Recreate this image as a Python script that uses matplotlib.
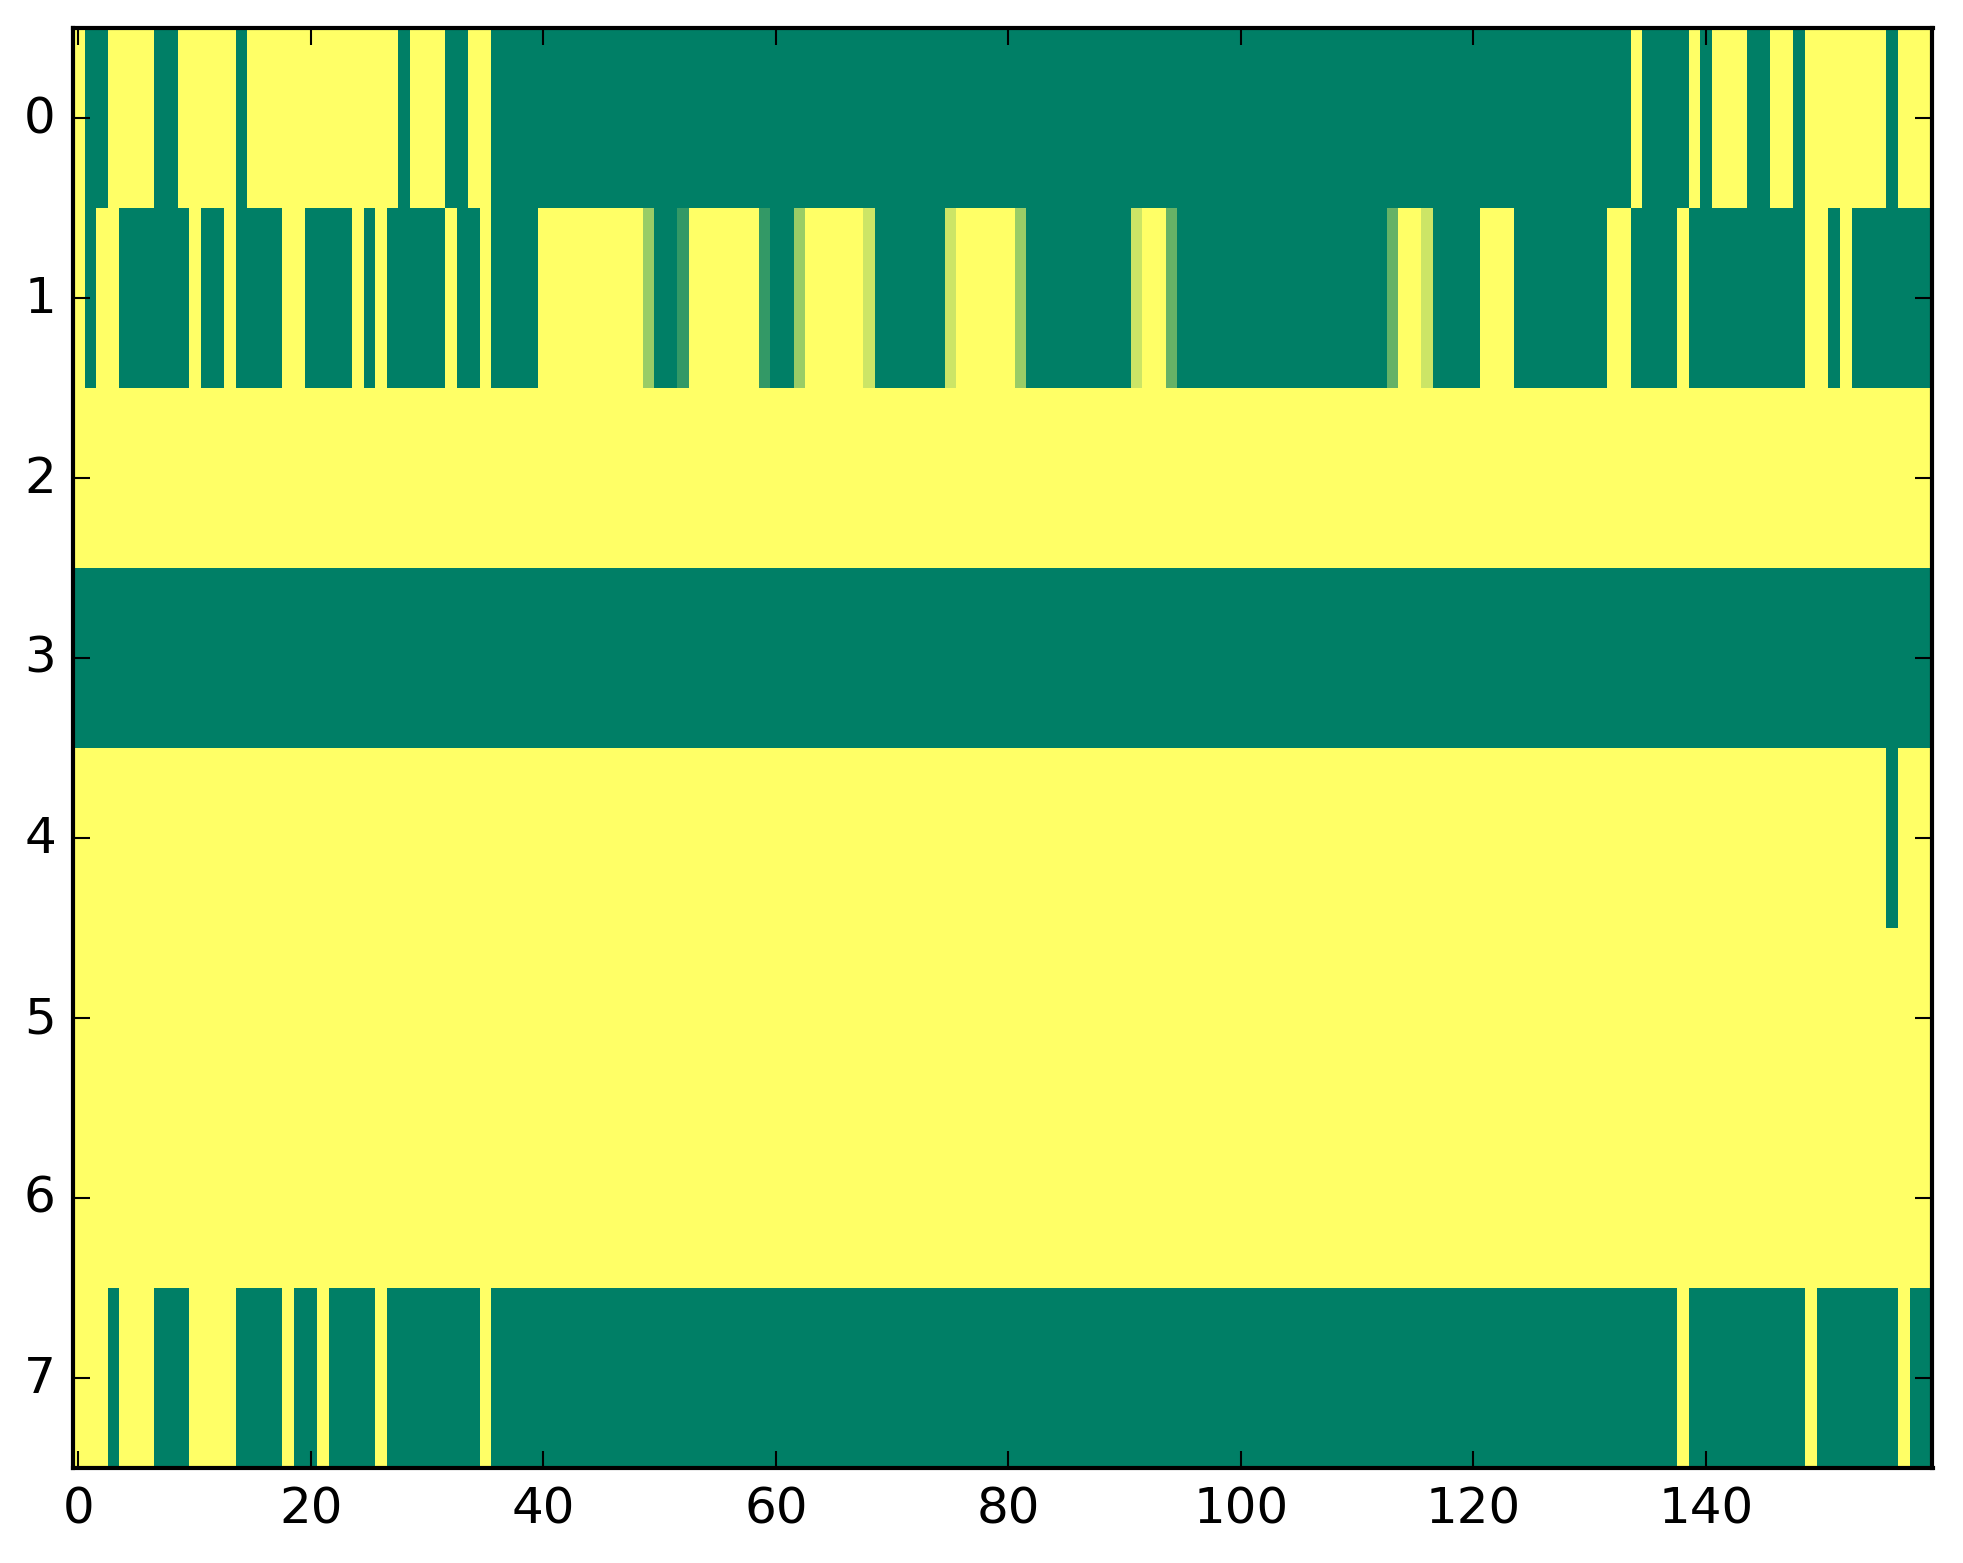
import numpy as np
import matplotlib.pyplot as plt

plt.style.use('classic')

# one character per cell, value = digit / 5  (0 -> dark green, 5 -> yellow)
row0 = ("50055550055555055555" "55555555055500550000"
        "00000000000000000000" "00000000000000000000"
        "00000000000000000000" "00000000000000000000"
        "00000000000000500005" "05550055055555550555")
row1 = ("50550000005005000055" "00005050000050050000"
        "55555555530015555551" "00355555400000045555"
        "53000000000455200000" "00000000000002554000"
        "05550000000055000050" "00000000055050000000")
row2 = ("55555555555555555555" "55555555555555555555"
        "55555555555555555555" "55555555555555555555"
        "55555555555555555555" "55555555555555555555"
        "55555555555555555555" "55555555555555555555")
row3 = ("00000000000000000000" "00000000000000000000"
        "00000000000000000000" "00000000000000000000"
        "00000000000000000000" "00000000000000000000"
        "00000000000000000000" "00000000000000000000")
row4 = ("55555555555555555555" "55555555555555555555"
        "55555555555555555555" "55555555555555555555"
        "55555555555555555555" "55555555555555555555"
        "55555555555555555555" "55555555555555550555")
row5 = row2
row6 = row2
row7 = ("55505550005555000050" "05000050000000050000"
        "00000000000000000000" "00000000000000000000"
        "00000000000000000000" "00000000000000000000"
        "00000000000000000050" "00000000050000000500")

rows = [row0, row1, row2, row3, row4, row5, row6, row7]
grid = np.array([[int(ch) / 5.0 for ch in r] for r in rows])

xticks = [0, 20, 40, 60, 80, 100, 120, 140]
yticks = [0, 1, 2, 3, 4, 5, 6, 7]

W, H, dpi = 1963, 1564, 300
fig = plt.figure(figsize=(W / dpi, H / dpi))
ax = fig.add_axes([72.5 / W, 95.0 / H, 1860.0 / W, 1440.0 / H])

ax.imshow(grid, cmap='summer', vmin=0, vmax=1,
          interpolation='nearest', aspect='auto')
ax.set_xticks(xticks)
ax.set_yticks(yticks)
ax.set_xlim(-0.5, grid.shape[1] - 0.5)
ax.set_ylim(grid.shape[0] - 0.5, -0.5)

fig.savefig('out.png', dpi=dpi)
